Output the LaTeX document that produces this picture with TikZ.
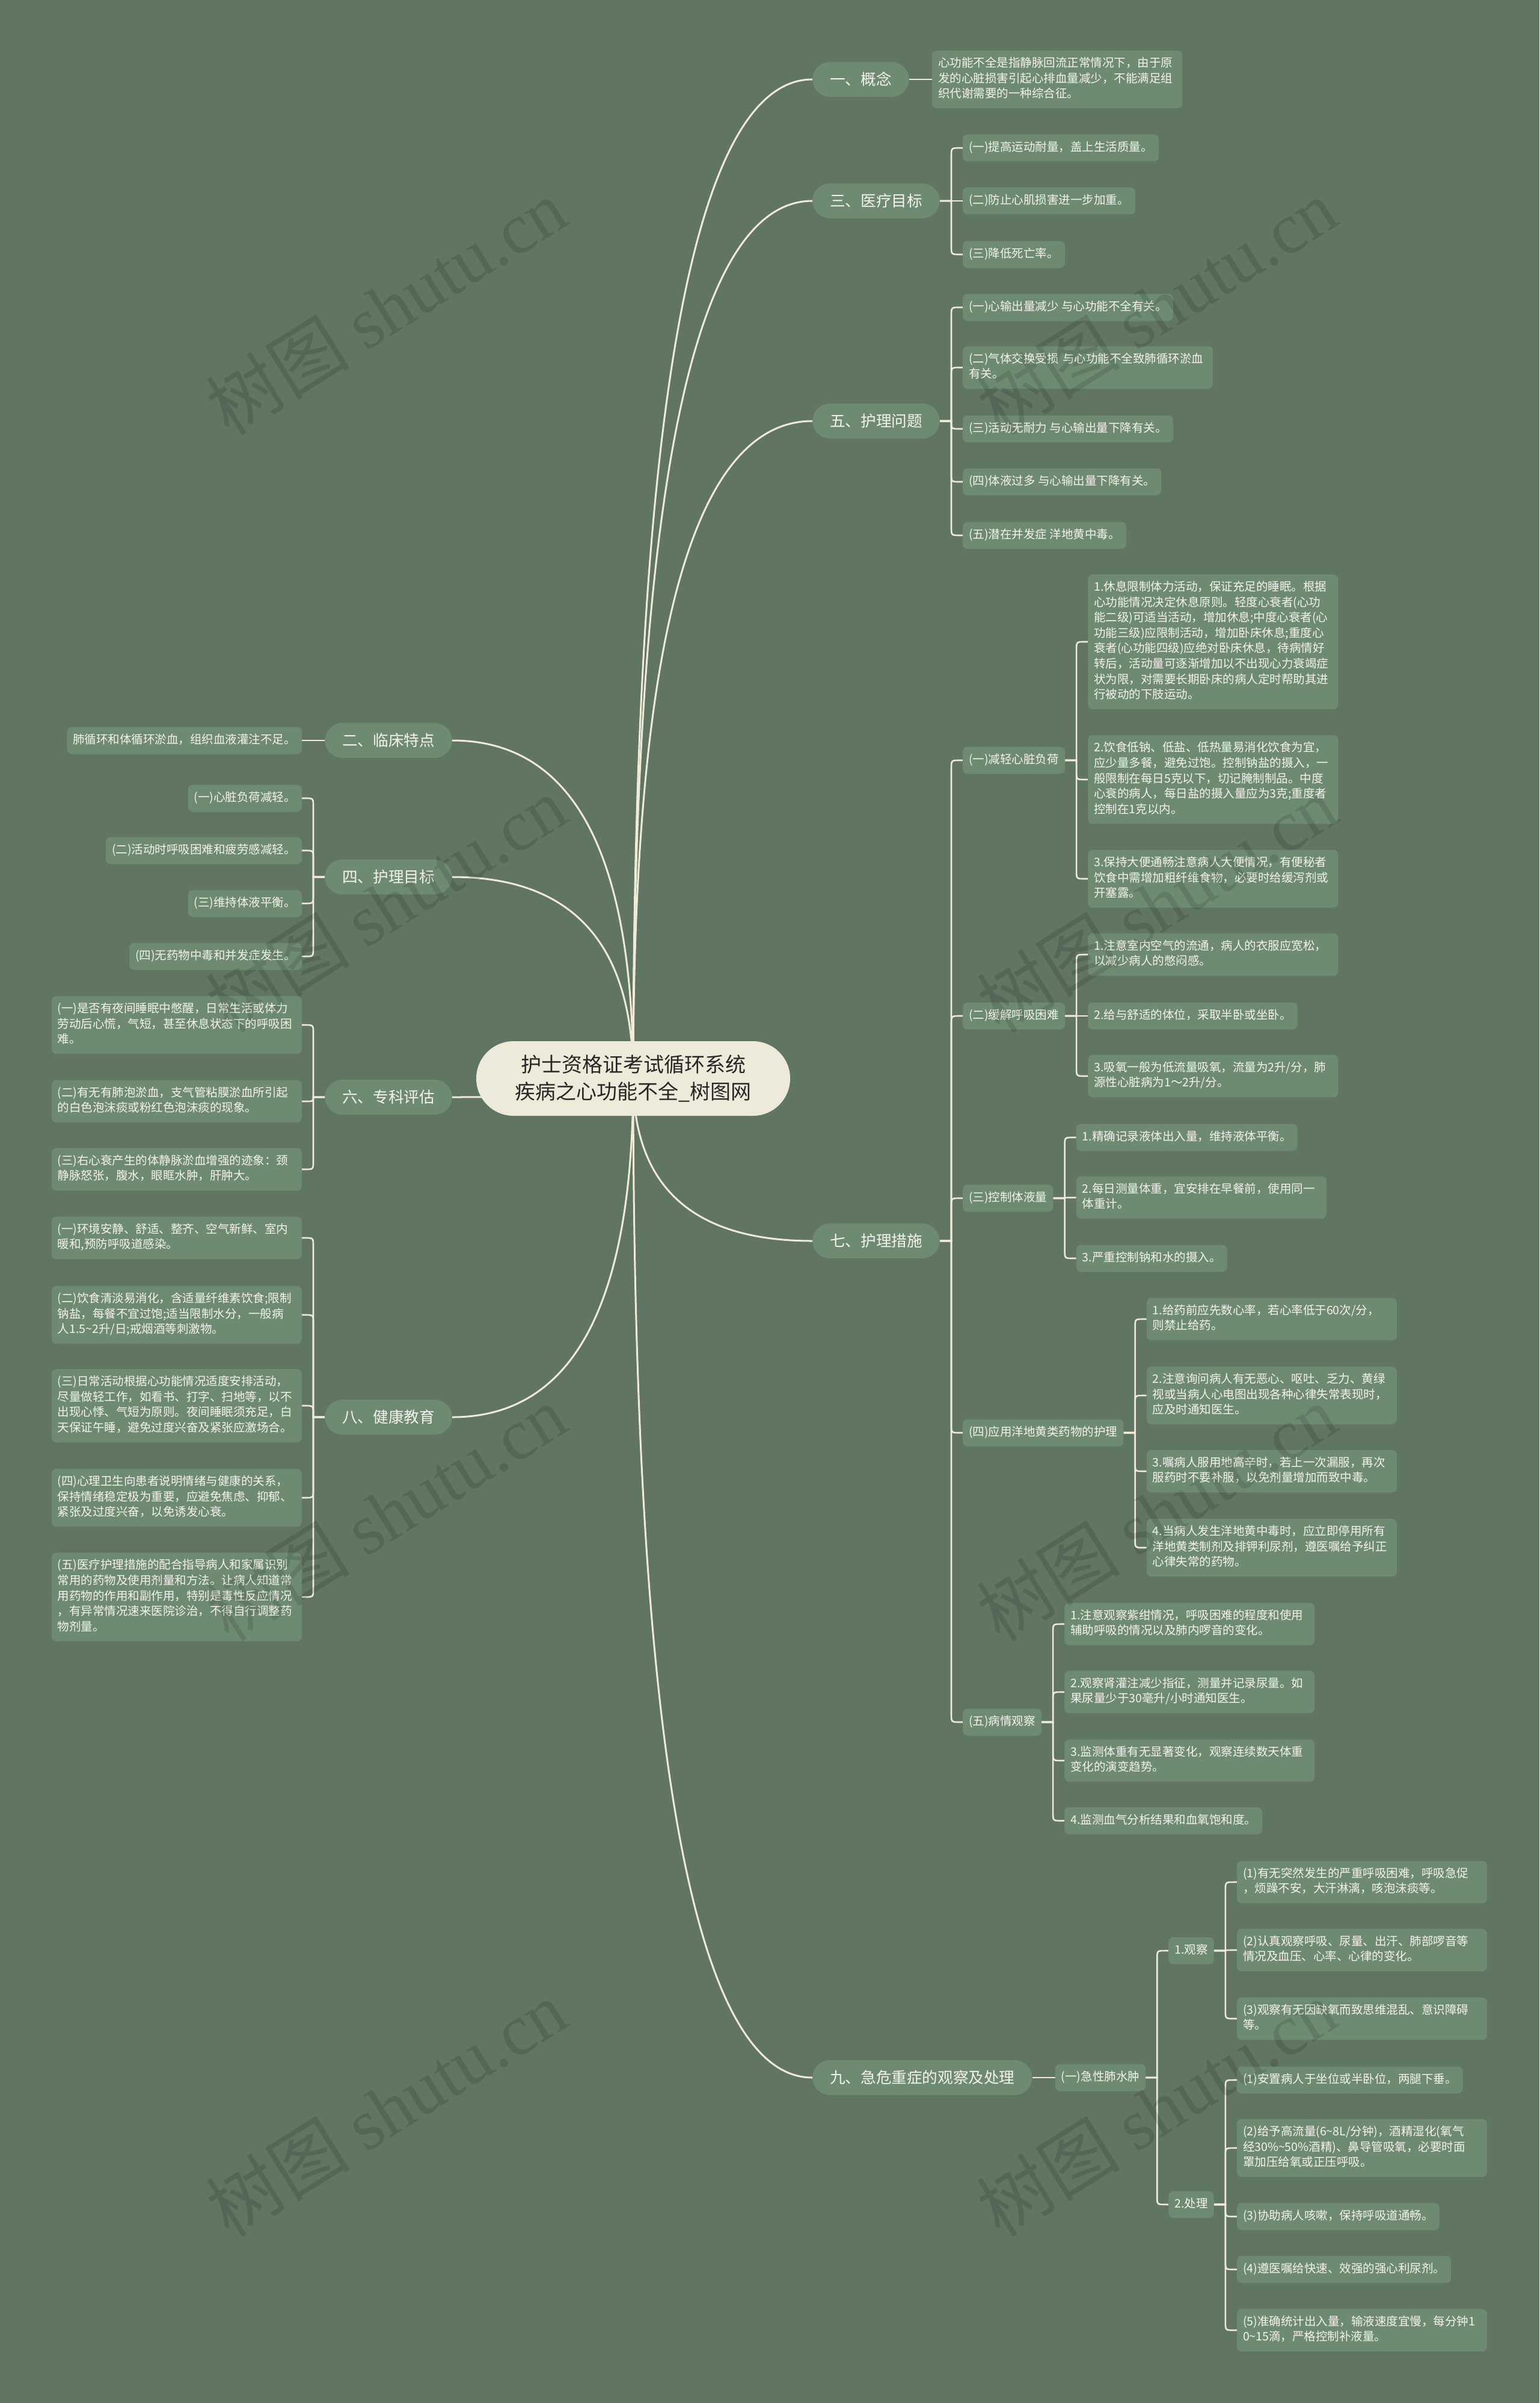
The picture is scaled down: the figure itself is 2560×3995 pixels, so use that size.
\documentclass[tikz,border=0pt]{standalone}
\usepackage{fontspec}
\setmainfont{Noto Sans CJK SC}
\newfontfamily\wmlat{Liberation Serif}
\usetikzlibrary{calc}
\definecolor{bgc}{HTML}{607562}
\definecolor{nodec}{HTML}{6E8B72}
\definecolor{linec}{HTML}{EFEBD8}
\definecolor{centc}{HTML}{EEEADA}
\definecolor{txtc}{HTML}{F5F4EE}
\pgfdeclarelayer{bglayer}\pgfdeclarelayer{lines}\pgfdeclarelayer{wm}
\pgfsetlayers{bglayer,lines,main,wm}
\tikzset{
 leaf/.style={fill=nodec, rounded corners=8pt, text=txtc, font=\fontsize{19.5}{25.6}\selectfont, inner xsep=10pt, inner ysep=9.7pt, align=left, execute at begin node=\strut, execute at end node=\strut},
 wide/.style={leaf, text width=396pt},
 lone/.style={fill=nodec, rounded corners=29pt, text=txtc, font=\fontsize{25.6}{30}\selectfont, inner xsep=29pt, inner ysep=0pt, minimum height=58pt},
 root/.style={fill=centc, rounded corners=62pt, text=black!85, font=\fontsize{34}{45}\selectfont, align=center, minimum width=522pt, minimum height=124pt},
 conn/.style={draw=linec, line width=2.6pt},
 mainconn/.style={draw=linec, line width=3pt},
 wmark/.style={text=black, text opacity=0.12, rotate=32, font=\fontsize{120}{120}\selectfont}
}
\newcommand\rkid[4][leaf]{\node[#1,anchor=west] (#2) at (g |- 0,#3) {#4};}
\newcommand\lkid[4][leaf]{\node[#1,anchor=east] (#2) at (g |- 0,#3) {#4};}
\newcommand\rlink[2]{\draw[conn] let \p1=(#1.east), \p2=(#2.west),
  \n1={abs(\y2-\y1)<14 ? \y1 : (\y1>\y2 ? \y2+14 : \y2-14)} in
  (\p1) -- (\x1+19pt,\y1) -- (\x1+19pt,\n1*1pt) .. controls (\x1+19pt,\y2) .. (\x1+33pt,\y2) -- (\p2);}
\newcommand\llink[2]{\draw[conn] let \p1=(#1.west), \p2=(#2.east),
  \n1={abs(\y2-\y1)<14 ? \y1 : (\y1>\y2 ? \y2+14 : \y2-14)} in
  (\p1) -- (\x1-19pt,\y1) -- (\x1-19pt,\n1*1pt) .. controls (\x1-19pt,\y2) .. (\x1-33pt,\y2) -- (\p2);}
\newcommand\clink[1]{\draw[mainconn] (C) .. controls ($(C)!0.667!(C|-#1)$) and ($(#1)!0.667!(C|-#1)$) .. (#1);}
\begin{document}
\begin{tikzpicture}[x=1pt,y=-1pt]
\begin{pgfonlayer}{bglayer}
\fill[bgc] (0,0) rectangle (2560,3995);
\end{pgfonlayer}
\useasboundingbox (0,0) rectangle (2560,3995);

\node[root] (root) at (1053,1793) {护士资格证考试循环系统\\疾病之心功能不全\_树图网};
\coordinate (C) at (1053,1793);

% ---------- right side ----------
\node[lone,anchor=west] (r1) at (1351,132) {一、概念};
\node[lone,anchor=west] (r3) at (1351,334) {三、医疗目标};
\node[lone,anchor=west] (r5) at (1351,700) {五、护理问题};
\node[lone,anchor=west] (r7) at (1351,2063) {七、护理措施};
\node[lone,anchor=west] (r9) at (1351,3454) {九、急危重症的观察及处理};

\coordinate (g) at ([xshift=38pt]r1.east);
\rkid[wide]{r1a}{132}{心功能不全是指静脉回流正常情况下，由于原\\发的心脏损害引起心排血量减少，不能满足组\\织代谢需要的一种综合征。}

\coordinate (g) at ([xshift=38pt]r3.east);
\rkid{r3a}{246}{(一)提高运动耐量，盖上生活质量。}
\rkid{r3b}{334}{(二)防止心肌损害进一步加重。}
\rkid{r3c}{423}{(三)降低死亡率。}

\coordinate (g) at ([xshift=38pt]r5.east);
\rkid{r5a}{511}{(一)心输出量减少 与心功能不全有关。}
\rkid[wide]{r5b}{611}{(二)气体交换受损~与心功能不全致肺循环淤血\\有关。}
\rkid{r5c}{713}{(三)活动无耐力 与心输出量下降有关。}
\rkid{r5d}{801}{(四)体液过多 与心输出量下降有关。}
\rkid{r5e}{890}{(五)潜在并发症 洋地黄中毒。}

\coordinate (g) at ([xshift=38pt]r7.east);
\rkid{r7a}{1264}{(一)减轻心脏负荷}
\rkid{r7b}{1689}{(二)缓解呼吸困难}
\rkid{r7c}{1992}{(三)控制体液量}
\rkid{r7d}{2382}{(四)应用洋地黄类药物的护理}
\rkid{r7e}{2863}{(五)病情观察}

\coordinate (g) at ([xshift=38pt]r7a.east);
\rkid[wide]{r7a1}{1067}{1.休息限制体力活动，保证充足的睡眠。根据\\心功能情况决定休息原则。轻度心衰者(心功\\能二级)可适当活动，增加休息;中度心衰者(心\\功能三级)应限制活动，增加卧床休息;重度心\\衰者(心功能四级)应绝对卧床休息，待病情好\\转后，活动量可逐渐增加以不出现心力衰竭症\\状为限，对需要长期卧床的病人定时帮助其进\\行被动的下肢运动。}
\rkid[wide]{r7a2}{1296}{2.饮食低钠、低盐、低热量易消化饮食为宜，\\应少量多餐，避免过饱。控制钠盐的摄入，一\\般限制在每日5克以下，切记腌制制品。中度\\心衰的病人，每日盐的摄入量应为3克;重度者\\控制在1克以内。}
\rkid[wide]{r7a3}{1461}{3.保持大便通畅注意病人大便情况，有便秘者\\饮食中需增加粗纤维食物，必要时给缓泻剂或\\开塞露。}

\coordinate (g) at ([xshift=38pt]r7b.east);
\rkid[wide]{r7b1}{1587}{1.注意室内空气的流通，病人的衣服应宽松，\\以减少病人的憋闷感。}
\rkid{r7b2}{1689}{2.给与舒适的体位，采取半卧或坐卧。}
\rkid[wide]{r7b3}{1789}{3.吸氧一般为低流量吸氧，流量为2升/分，肺\\源性心脏病为1～2升/分。}

\coordinate (g) at ([xshift=38pt]r7c.east);
\rkid{r7c1}{1891}{1.精确记录液体出入量，维持液体平衡。}
\rkid[wide]{r7c2}{1991}{2.每日测量体重，宜安排在早餐前，使用同一\\体重计。}
\rkid{r7c3}{2092}{3.严重控制钠和水的摄入。}

\coordinate (g) at ([xshift=38pt]r7d.east);
\rkid[wide]{r7d1}{2193}{1.给药前应先数心率，若心率低于60次/分，\\则禁止给药。}
\rkid[wide]{r7d2}{2320}{2.注意询问病人有无恶心、呕吐、乏力、黄绿\\视或当病人心电图出现各种心律失常表现时，\\应及时通知医生。}
\rkid[wide]{r7d3}{2446}{3.嘱病人服用地高辛时，若上一次漏服，再次\\服药时不要补服，以免剂量增加而致中毒。}
\rkid[wide]{r7d4}{2573}{4.当病人发生洋地黄中毒时，应立即停用所有\\洋地黄类制剂及排钾利尿剂，遵医嘱给予纠正\\心律失常的药物。}

\coordinate (g) at ([xshift=38pt]r7e.east);
\rkid[wide]{r7e1}{2700}{1.注意观察紫绀情况，呼吸困难的程度和使用\\辅助呼吸的情况以及肺内啰音的变化。}
\rkid[wide]{r7e2}{2813}{2.观察肾灌注减少指征，测量并记录尿量。如\\果尿量少于30毫升/小时通知医生。}
\rkid[wide]{r7e3}{2927}{3.监测体重有无显著变化，观察连续数天体重\\变化的演变趋势。}
\rkid{r7e4}{3027}{4.监测血气分析结果和血氧饱和度。}

\coordinate (g) at ([xshift=38pt]r9.east);
\rkid{r9a}{3454}{(一)急性肺水肿}
\coordinate (g) at ([xshift=38pt]r9a.east);
\rkid{r9a1}{3243}{1.观察}
\rkid{r9a2}{3665}{2.处理}

\coordinate (g) at ([xshift=38pt]r9a1.east);
\rkid[wide]{r9b1}{3129}{(1)有无突然发生的严重呼吸困难，呼吸急促\\，烦躁不安，大汗淋漓，咳泡沫痰等。}
\rkid[wide]{r9b2}{3242}{(2)认真观察呼吸、尿量、出汗、肺部啰音等\\情况及血压、心率、心律的变化。}
\rkid[wide]{r9b3}{3356}{(3)观察有无因缺氧而致思维混乱、意识障碍\\等。}

\coordinate (g) at ([xshift=38pt]r9a2.east);
\rkid{r9c1}{3458}{(1)安置病人于坐位或半卧位，两腿下垂。}
\rkid[wide]{r9c2}{3571}{(2)给予高流量(6\textasciitilde 8L/分钟)，酒精湿化(氧气\\经30\%\textasciitilde 50\%酒精)、鼻导管吸氧，必要时面\\罩加压给氧或正压呼吸。}
\rkid{r9c3}{3685}{(3)协助病人咳嗽，保持呼吸道通畅。}
\rkid{r9c4}{3773}{(4)遵医嘱给快速、效强的强心利尿剂。}
\rkid[wide]{r9c5}{3874}{(5)准确统计出入量，输液速度宜慢，每分钟1\\0\textasciitilde 15滴，严格控制补液量。}

% ---------- left side ----------
\node[lone,anchor=east] (l2) at (752,1231) {二、临床特点};
\node[lone,anchor=east] (l4) at (752,1458) {四、护理目标};
\node[lone,anchor=east] (l6) at (752,1824) {六、专科评估};
\node[lone,anchor=east] (l8) at (752,2356) {八、健康教育};

\coordinate (g) at ([xshift=-38pt]l2.west);
\lkid{l2a}{1231}{肺循环和体循环淤血，组织血液灌注不足。}

\coordinate (g) at ([xshift=-38pt]l4.west);
\lkid{l4a}{1327}{(一)心脏负荷减轻。}
\lkid{l4b}{1414}{(二)活动时呼吸困难和疲劳感减轻。}
\lkid{l4c}{1502}{(三)维持体液平衡。}
\lkid{l4d}{1590}{(四)无药物中毒和并发症发生。}

\coordinate (g) at ([xshift=-38pt]l6.west);
\lkid[wide]{l6a}{1704}{(一)是否有夜间睡眠中憋醒，日常生活或体力\\劳动后心慌，气短，甚至休息状态下的呼吸困\\难。}
\lkid[wide]{l6b}{1831}{(二)有无有肺泡淤血，支气管粘膜淤血所引起\\的白色泡沫痰或粉红色泡沫痰的现象。}
\lkid[wide]{l6c}{1944}{(三)右心衰产生的体静脉淤血增强的迹象：颈\\静脉怒张，腹水，眼眶水肿，肝肿大。}

\coordinate (g) at ([xshift=-38pt]l8.west);
\lkid[wide]{l8a}{2058}{(一)环境安静、舒适、整齐、空气新鲜、室内\\暖和,预防呼吸道感染。}
\lkid[wide]{l8b}{2186}{(二)饮食清淡易消化，含适量纤维素饮食;限制\\钠盐，每餐不宜过饱;适当限制水分，一般病\\人1.5\textasciitilde 2升/日;戒烟酒等刺激物。}
\lkid[wide]{l8c}{2337}{(三)日常活动根据心功能情况适度安排活动，\\尽量做轻工作，如看书、打字、扫地等，以不\\出现心悸、气短为原则。夜间睡眠须充足，白\\天保证午睡，避免过度兴奋及紧张应激场合。}
\lkid[wide]{l8d}{2490}{(四)心理卫生向患者说明情绪与健康的关系，\\保持情绪稳定极为重要，应避免焦虑、抑郁、\\紧张及过度兴奋，以免诱发心衰。}
\lkid[wide]{l8e}{2655}{(五)医疗护理措施的配合指导病人和家属识别\\常用的药物及使用剂量和方法。让病人知道常\\用药物的作用和副作用，特别是毒性反应情况\\，有异常情况速来医院诊治，不得自行调整药\\物剂量。}

% ---------- connectors ----------
\begin{pgfonlayer}{lines}
\clink{r1.west}\clink{r3.west}\clink{r5.west}\clink{r7.west}\clink{r9.west}
\clink{l2.east}\clink{l4.east}\clink{l6.east}\clink{l8.east}
\rlink{r1}{r1a}
\rlink{r3}{r3a}\rlink{r3}{r3b}\rlink{r3}{r3c}
\rlink{r5}{r5a}\rlink{r5}{r5b}\rlink{r5}{r5c}\rlink{r5}{r5d}\rlink{r5}{r5e}
\rlink{r7}{r7a}\rlink{r7}{r7b}\rlink{r7}{r7c}\rlink{r7}{r7d}\rlink{r7}{r7e}
\rlink{r7a}{r7a1}\rlink{r7a}{r7a2}\rlink{r7a}{r7a3}
\rlink{r7b}{r7b1}\rlink{r7b}{r7b2}\rlink{r7b}{r7b3}
\rlink{r7c}{r7c1}\rlink{r7c}{r7c2}\rlink{r7c}{r7c3}
\rlink{r7d}{r7d1}\rlink{r7d}{r7d2}\rlink{r7d}{r7d3}\rlink{r7d}{r7d4}
\rlink{r7e}{r7e1}\rlink{r7e}{r7e2}\rlink{r7e}{r7e3}\rlink{r7e}{r7e4}
\rlink{r9}{r9a}
\rlink{r9a}{r9a1}\rlink{r9a}{r9a2}
\rlink{r9a1}{r9b1}\rlink{r9a1}{r9b2}\rlink{r9a1}{r9b3}
\rlink{r9a2}{r9c1}\rlink{r9a2}{r9c2}\rlink{r9a2}{r9c3}\rlink{r9a2}{r9c4}\rlink{r9a2}{r9c5}
\llink{l2}{l2a}
\llink{l4}{l4a}\llink{l4}{l4b}\llink{l4}{l4c}\llink{l4}{l4d}
\llink{l6}{l6a}\llink{l6}{l6b}\llink{l6}{l6c}
\llink{l8}{l8a}\llink{l8}{l8b}\llink{l8}{l8c}\llink{l8}{l8d}\llink{l8}{l8e}
\end{pgfonlayer}

% ---------- watermark ----------
\begin{pgfonlayer}{wm}
\foreach \wy [count=\i] in {510,1503,2515,3505}{
  \node[wmark] (wl\i) at (642,\wy) {树图 {\wmlat shutu.cn}};
  \node[wmark] (wr\i) at (1923,\wy) {树图 {\wmlat shutu.cn}};
}
\end{pgfonlayer}
\end{tikzpicture}
\end{document}
